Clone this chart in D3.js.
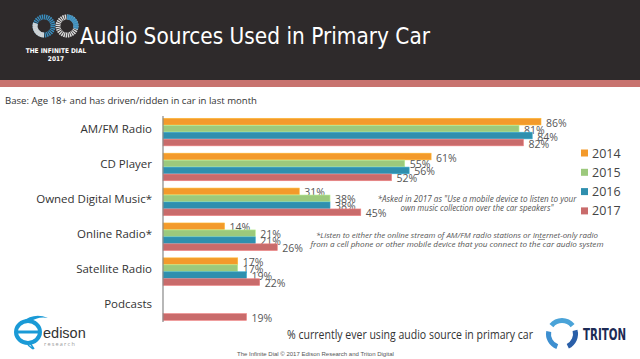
<!DOCTYPE html>
<html>
<head>
<meta charset="utf-8">
<script src="https://cdn.jsdelivr.net/npm/d3@7"></script>
<style>
  html, body { margin: 0; padding: 0; background: #fff; }
  svg { display: block; font-family: "Open Sans", "DejaVu Sans", sans-serif; }
</style>
</head>
<body>
<svg width="640" height="359"></svg>
<script>
// data
const categories = ['AM/FM Radio', 'CD Player', 'Owned Digital Music*', 'Online Radio*', 'Satellite Radio', 'Podcasts'];
const years = ['2014', '2015', '2016', '2017'];
const v2014 = [86, 61, 31, 14, 17, null];
const v2015 = [81, 55, 38, 21, 17, null];
const v2016 = [84, 56, 38, 21, 19, null];
const v2017 = [82, 52, 45, 26, 22, 19];
const colors = ['#f39a2b', '#9cc97c', '#2f8fae', '#c96b6b'];

const series = [v2014, v2015, v2016, v2017];
const rows = categories.map((c, i) => ({
  cat: c,
  vals: years.map((y, j) => ({ year: y, v: series[j][i], j }))
}));

const svg = d3.select('svg');

// header
svg.append('rect').attr('x', 0).attr('y', 0).attr('width', 640).attr('height', 81).attr('fill', '#2e2a2b');
svg.append('rect').attr('x', 0).attr('y', 80).attr('width', 640).attr('height', 7).attr('fill', '#c8736f');

svg.append('text')
  .attr('x', 80).attr('y', 44)
  .attr('fill', '#fff')
  .attr('font-family', '"DejaVu Sans Condensed", "DejaVu Sans", sans-serif')
  .attr('font-size', 23)
  .attr('textLength', 350)
  .attr('lengthAdjust', 'spacingAndGlyphs')
  .text('Audio Sources Used in Primary Car');

// infinite dial logo (rough)
const logo = svg.append('g');
[[44, 26, '#3a8fc0'], [67, 26, '#3a8fc0']].forEach(([cx, cy, c], k) => {
  logo.append('circle').attr('cx', cx).attr('cy', cy).attr('r', 9)
    .attr('fill', 'none').attr('stroke', k === 0 ? c : '#ddd').attr('stroke-width', 5)
    .attr('stroke-dasharray', '1.3,0.7');
  logo.append('path')
    .attr('d', d3.arc()({ innerRadius: 6.5, outerRadius: 11.5, startAngle: k === 0 ? Math.PI : 0, endAngle: k === 0 ? Math.PI * 1.6 : Math.PI * 0.6 }))
    .attr('transform', `translate(${cx},${cy})`)
    .attr('fill', k === 0 ? '#ddd' : c).attr('opacity', 0.9);
});
logo.append('text').attr('x', 56).attr('y', 53).attr('text-anchor', 'middle')
  .attr('fill', '#fff').attr('font-size', 6.5).attr('font-weight', 'bold')
  .attr('font-family', '"DejaVu Sans Condensed", sans-serif').text('THE INFINITE DIAL');
logo.append('text').attr('x', 56).attr('y', 61).attr('text-anchor', 'middle')
  .attr('fill', '#fff').attr('font-size', 6.5).attr('font-weight', 'bold')
  .attr('font-family', '"DejaVu Sans Condensed", sans-serif').text('2017');

// base note
svg.append('text')
  .attr('x', 5).attr('y', 104)
  .attr('fill', '#333').attr('font-size', 9.5)
  .attr('textLength', 252).attr('lengthAdjust', 'spacingAndGlyphs')
  .text('Base: Age 18+ and has driven/ridden in car in last month');

// scales
const x = d3.scaleLinear().domain([0, 86]).range([163, 541]);
const y0 = d3.scaleBand().domain(categories).range([114.8, 323.8]).paddingInner(0.21).paddingOuter(0.1);
const y1 = d3.scaleBand().domain(years).range([0, y0.bandwidth()]).paddingInner(0.04);

const groups = svg.selectAll('g.grp')
  .data(rows)
  .enter()
  .append('g')
  .attr('class', 'grp')
  .attr('transform', d => `translate(0,${y0(d.cat)})`);

const bars = groups.selectAll('g.bar')
  .data(d => d.vals.filter(e => e.v != null))
  .enter()
  .append('g')
  .attr('class', 'bar');

bars.append('rect')
  .attr('x', x(0))
  .attr('y', d => y1(d.year))
  .attr('width', d => x(d.v) - x(0))
  .attr('height', y1.bandwidth())
  .attr('fill', d => colors[d.j])
  .attr('stroke', d => d3.color(colors[d.j]).brighter(0.5))
  .attr('stroke-width', 0.6);

bars.append('text')
  .attr('x', d => x(d.v) + 5)
  .attr('y', d => y1(d.year) + y1.bandwidth() / 2 + 5)
  .attr('fill', '#555')
  .attr('font-size', 10.5)
  .text(d => d.v + '%');

// category labels
svg.selectAll('text.cat')
  .data(categories)
  .enter()
  .append('text')
  .attr('class', 'cat')
  .attr('x', 152)
  .attr('y', d => y0(d) + y0.bandwidth() / 2 + 1)
  .attr('text-anchor', 'end')
  .attr('fill', '#333')
  .attr('font-size', 11.5)
  .text(d => d);

// axis line
svg.append('line')
  .attr('x1', x(0)).attr('x2', x(0))
  .attr('y1', 116).attr('y2', 322)
  .attr('stroke', '#888').attr('stroke-width', 1.2);

// legend
const leg = svg.selectAll('g.leg')
  .data(years)
  .enter()
  .append('g')
  .attr('class', 'leg')
  .attr('transform', (d, i) => `translate(581,${153 + i * 19.3})`);
leg.append('rect').attr('x', 0).attr('y', -3.5).attr('width', 7).attr('height', 7)
  .attr('fill', (d, i) => colors[i]);
leg.append('text').attr('x', 11).attr('y', 4.5).attr('fill', '#444').attr('font-size', 12.5).text(d => d);

// footnotes
const note = (lines, cx, ys, size, w) => {
  lines.forEach((t, k) => {
    svg.append('text')
      .attr('x', cx).attr('y', ys[k])
      .attr('text-anchor', 'middle')
      .attr('font-style', 'italic')
      .attr('fill', '#555')
      .attr('font-size', size)
      .attr('textLength', w[k]).attr('lengthAdjust', 'spacingAndGlyphs')
      .text(t);
  });
};
note(['*Asked in 2017 as "Use a mobile device to listen to your', 'own music collection over the car speakers"'],
  477, [202, 211], 8.3, [199, 153]);
note(['*Listen to either the online stream of AM/FM radio stations or Internet-only radio',
  'from a cell phone or other mobile device that you connect to the car audio system'],
  457, [238, 246.5], 7.3, [282, 293]);
// underline "or"
svg.append('line').attr('x1', 538).attr('x2', 545).attr('y1', 239.5).attr('y2', 239.5)
  .attr('stroke', '#555').attr('stroke-width', 0.6);

// x axis title
svg.append('text')
  .attr('x', 287).attr('y', 339)
  .attr('fill', '#333').attr('font-size', 12.5)
  .attr('textLength', 246).attr('lengthAdjust', 'spacingAndGlyphs')
  .text('% currently ever using audio source in primary car');

// footer
svg.append('text')
  .attr('x', 237).attr('y', 356)
  .attr('fill', '#555').attr('font-size', 6)
  .attr('font-family', '"Liberation Sans", Arial, sans-serif')
  .text('The Infinite Dial   \u00a9 2017 Edison Research and Triton Digital');

// edison logo (rough)
const ed = svg.append('g');
ed.append('ellipse').attr('cx', 28).attr('cy', 332).attr('rx', 12).attr('ry', 11)
  .attr('fill', 'none').attr('stroke', '#1a9ad6').attr('stroke-width', 4);
ed.append('path').attr('d', 'M18,332 L38,332').attr('stroke', '#1a9ad6').attr('stroke-width', 3);
ed.append('path').attr('d', 'M22,322 Q34,312 48,318 Q38,316 30,322').attr('fill', '#1a9ad6');
ed.append('path').attr('d', 'M30,343 l4,6 M28,345 l5,4').attr('stroke', '#1a9ad6').attr('stroke-width', 1.5);
ed.append('text').attr('x', 43).attr('y', 338).attr('fill', '#333').attr('font-size', 14.5)
  .attr('font-family', '"Liberation Sans", sans-serif').text('edison');
ed.append('text').attr('x', 44).attr('y', 346).attr('fill', '#999').attr('font-size', 5.5)
  .attr('letter-spacing', 1.2).text('research');

// triton logo (rough)
const tr = svg.append('g').attr('transform', 'translate(562,334)');
tr.append('path').attr('d', d3.arc()({ innerRadius: 11, outerRadius: 16, startAngle: -0.9, endAngle: 0.9 }))
  .attr('fill', '#4aa3d8');
tr.append('path').attr('d', d3.arc()({ innerRadius: 11, outerRadius: 16, startAngle: 1.3, endAngle: 2.7 }))
  .attr('fill', '#2a5fa8');
tr.append('path').attr('d', d3.arc()({ innerRadius: 11, outerRadius: 16, startAngle: 3.5, endAngle: 4.9 }))
  .attr('fill', '#3d8fd0');
svg.append('text').attr('x', 583).attr('y', 340).attr('fill', '#1c2a55').attr('font-size', 15)
  .attr('font-weight', 'bold').attr('font-family', '"DejaVu Sans Condensed", sans-serif')
  .attr('textLength', 43).attr('lengthAdjust', 'spacingAndGlyphs').text('TRITON');
</script>
</body>
</html>
